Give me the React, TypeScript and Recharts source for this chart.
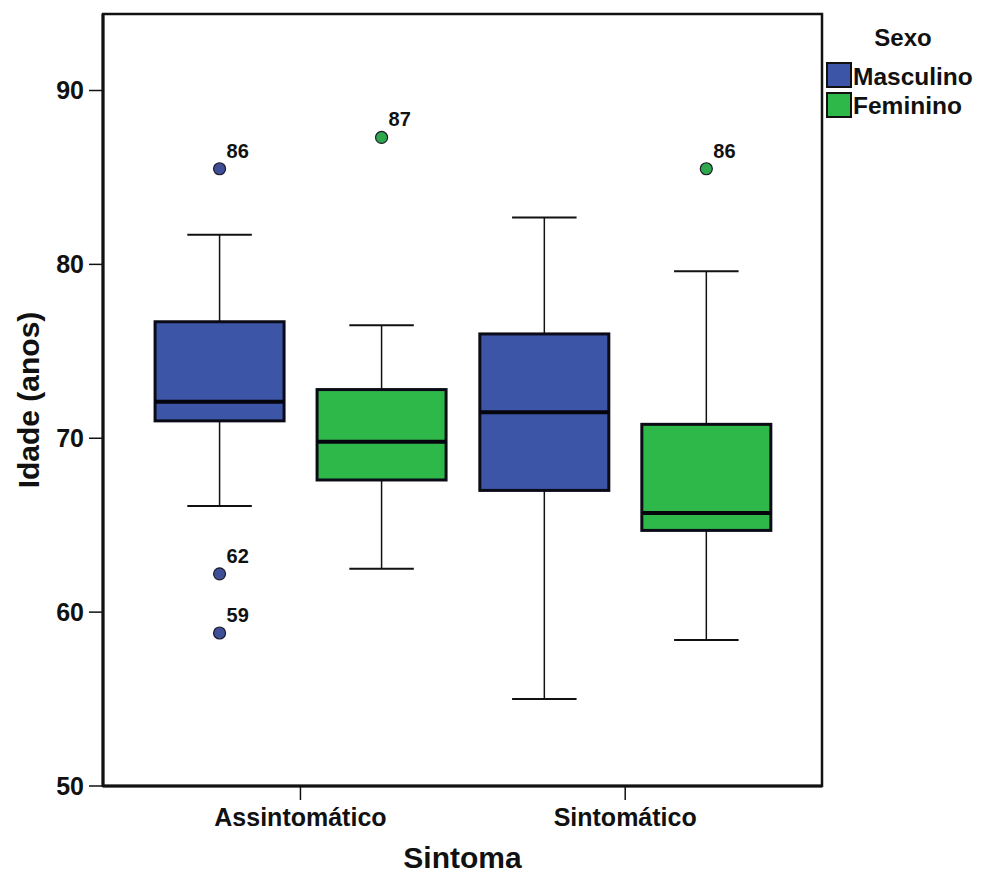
import { ComposedChart, Bar, XAxis, YAxis, Label, ReferenceArea } from "recharts";

const categories = ["Assintomático", "Sintomático"];
const yTicks = [50, 60, 70, 80, 90];

// Masculino
const mascMin = [66.1, 55.0];
const mascQ1 = [71.0, 67.0];
const mascMedian = [72.1, 71.5];
const mascQ3 = [76.7, 76.0];
const mascMax = [81.7, 82.7];
const mascOutliers = [
  [
    { value: 85.5, label: "86" },
    { value: 62.2, label: "62" },
    { value: 58.8, label: "59" },
  ],
  [],
];

// Feminino
const femMin = [62.5, 58.4];
const femQ1 = [67.6, 64.7];
const femMedian = [69.8, 65.7];
const femQ3 = [72.8, 70.8];
const femMax = [76.5, 79.6];
const femOutliers = [[{ value: 87.3, label: "87" }], [{ value: 85.5, label: "86" }]];

const BLUE = "#3d55a6";
const GREEN = "#2fb84a";
const FONT = "'Liberation Sans', Arial, sans-serif";
const Y_DOMAIN = [50, 94.4];
const X_DOMAIN = [-0.608, 1.606];

const data = categories.map((cat, i) => ({
  pos: i,
  cat,
  m: { min: mascMin[i], q1: mascQ1[i], med: mascMedian[i], q3: mascQ3[i], max: mascMax[i], out: mascOutliers[i] },
  f: { min: femMin[i], q1: femQ1[i], med: femMedian[i], q3: femQ3[i], max: femMax[i], out: femOutliers[i] },
}));

const BoxShape = (props: any) => {
  const { x, y, width, height, payload, series, fill, dotFill } = props;
  const s = payload[series];
  const top = Math.min(y, y + height);
  const h = Math.abs(height);
  const ppu = h / (s.q3 - s.q1);
  const py = (v: number) => top + (s.q3 - v) * ppu;
  const cx = x + width / 2;
  const cap = width / 4;
  return (
    <g>
      <line x1={cx} x2={cx} y1={py(s.max)} y2={py(s.q3)} stroke="#111" strokeWidth={1.5} />
      <line x1={cx} x2={cx} y1={py(s.q1)} y2={py(s.min)} stroke="#111" strokeWidth={1.5} />
      <line x1={cx - cap} x2={cx + cap} y1={py(s.max)} y2={py(s.max)} stroke="#111" strokeWidth={2} />
      <line x1={cx - cap} x2={cx + cap} y1={py(s.min)} y2={py(s.min)} stroke="#111" strokeWidth={2} />
      <rect x={x} y={top} width={width} height={h} fill={fill} stroke="#0b0b18" strokeWidth={3} />
      <line x1={x} x2={x + width} y1={py(s.med)} y2={py(s.med)} stroke="#05050d" strokeWidth={4} />
      {s.out.map((o: any, k: number) => (
        <g key={k}>
          <circle cx={cx} cy={py(o.value)} r={6} fill={dotFill} stroke="#1a1a2a" strokeWidth={1.2} />
          <text x={cx + 7} y={py(o.value) - 11} fontFamily={FONT} fontWeight="bold" fontSize={20} fill="#111">
            {o.label}
          </text>
        </g>
      ))}
    </g>
  );
};

const tickStyle = { fontFamily: FONT, fontWeight: "bold" as const, fontSize: 25, fill: "#111" };

const App = () => {
  return (
    <div style={{ position: "absolute", left: 0, top: 0, width: 986, height: 875, background: "#fff" }}>
      <ComposedChart
        width={986}
        height={875}
        data={data}
        margin={{ top: 14, right: 164, left: 0, bottom: 0 }}
        barGap={33}
      >
        <XAxis
          dataKey="pos"
          type="number"
          domain={X_DOMAIN}
          ticks={[0, 1]}
          tickFormatter={(v: number) => categories[v]}
          allowDataOverflow
          height={89}
          axisLine={{ stroke: "#111", strokeWidth: 3 }}
          tickLine={{ stroke: "#111", strokeWidth: 1.5 }}
          tickSize={14}
          tickMargin={8}
          tick={tickStyle}
        >
          <Label
            content={({ viewBox }: any) => (
              <text
                x={viewBox.x + viewBox.width / 2}
                y={viewBox.y + 82}
                textAnchor="middle"
                fontFamily={FONT}
                fontWeight="bold"
                fontSize={30}
                fill="#111"
              >
                Sintoma
              </text>
            )}
          />
        </XAxis>
        <YAxis
          domain={Y_DOMAIN}
          ticks={yTicks}
          allowDataOverflow
          width={103}
          axisLine={{ stroke: "#111", strokeWidth: 3 }}
          tickLine={{ stroke: "#111", strokeWidth: 1.5 }}
          tickSize={14}
          tickMargin={5}
          tick={tickStyle}
        >
          <Label
            content={({ viewBox }: any) => {
              const lx = viewBox.x + 28;
              const ly = viewBox.y + viewBox.height / 2;
              return (
                <text
                  x={lx}
                  y={ly}
                  transform={`rotate(-90 ${lx} ${ly})`}
                  textAnchor="middle"
                  dominantBaseline="central"
                  fontFamily={FONT}
                  fontWeight="bold"
                  fontSize={30}
                  fill="#111"
                >
                  Idade (anos)
                </text>
              );
            }}
          />
        </YAxis>
        {/* frame around the plot area */}
        <ReferenceArea
          x1={X_DOMAIN[0]}
          x2={X_DOMAIN[1]}
          y1={Y_DOMAIN[0]}
          y2={Y_DOMAIN[1]}
          fill="none"
          stroke="#111"
          strokeWidth={2.5}
          ifOverflow="visible"
        />
        <Bar
          name="Masculino"
          dataKey={(d: any) => [d.m.q1, d.m.q3]}
          barSize={129}
          fill={BLUE}
          isAnimationActive={false}
          shape={(p: any) => <BoxShape {...p} series="m" fill={BLUE} dotFill="#3e4f98" />}
        />
        <Bar
          name="Feminino"
          dataKey={(d: any) => [d.f.q1, d.f.q3]}
          barSize={129}
          fill={GREEN}
          isAnimationActive={false}
          shape={(p: any) => <BoxShape {...p} series="f" fill={GREEN} dotFill="#2ea84a" />}
        />
      </ComposedChart>
      <svg style={{ position: "absolute", left: 820, top: 0 }} width={166} height={130}>
        <text x={83} y={46} textAnchor="middle" fontFamily={FONT} fontWeight="bold" fontSize={24} fill="#111">
          Sexo
        </text>
        <rect x={7} y={63} width={24} height={24} fill={BLUE} stroke="#111" strokeWidth={2} />
        <text x={33} y={85} fontFamily={FONT} fontWeight="bold" fontSize={24.5} fill="#111">
          Masculino
        </text>
        <rect x={7} y={93} width={24} height={24} fill={GREEN} stroke="#111" strokeWidth={2} />
        <text x={33} y={114} fontFamily={FONT} fontWeight="bold" fontSize={24.5} fill="#111">
          Feminino
        </text>
      </svg>
    </div>
  );
};

export default App;
